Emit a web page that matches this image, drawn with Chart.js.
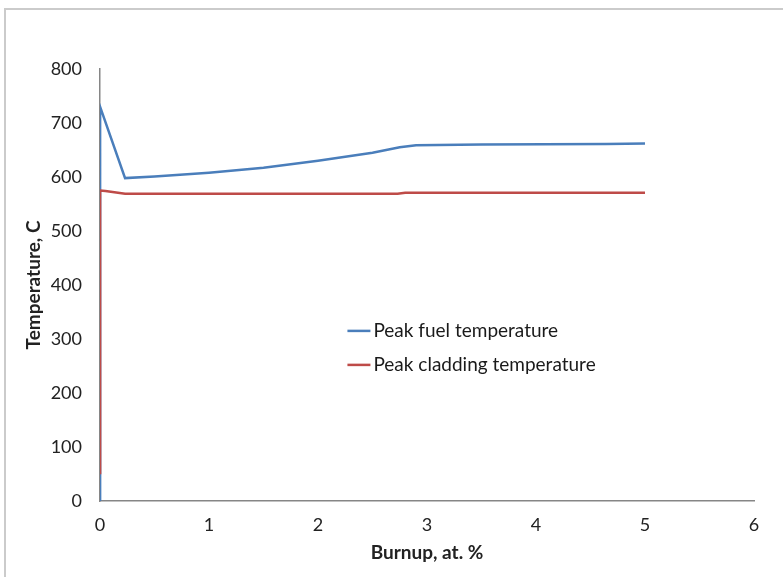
<!DOCTYPE html>
<html>
<head>
<meta charset="utf-8">
<script src="https://cdn.jsdelivr.net/npm/chart.js@4.4.1/dist/chart.umd.min.js"></script>
<style>
  body { margin: 0; background: #fff; }
  #frame { position: absolute; left: 4px; top: 8px; width: 820px; height: 620px; border: 2px solid #cbcbcb; }
  #wrap { position: absolute; left: 0; top: 0; width: 783px; height: 577px; }
</style>
</head>
<body>
<div id="frame"></div>
<div id="wrap"><canvas id="myChart" width="783" height="577"></canvas></div>
<script>
// burnup (at. %) and peak temperatures (C)
var fuelBurnup = [0, 0.001, 0.23, 0.5, 1, 1.5, 2, 2.5, 2.75, 2.9, 3.5, 4.65, 5];
var fuelTemp   = [0, 730, 598, 601, 608, 617, 630, 645, 655, 659, 660, 661, 662];

var cladBurnup = [0, 0.001, 0.05, 0.23, 1, 2, 2.73, 2.8, 3.5, 4.65, 5];
var cladTemp   = [52, 575, 574, 569, 569, 569, 569, 571, 571, 571, 571];

var xTicks = [0, 1, 2, 3, 4, 5, 6];
var yTicks = [0, 100, 200, 300, 400, 500, 600, 700, 800];

function toPoints(xs, ys) {
  var pts = [];
  for (var i = 0; i < xs.length; i++) pts.push({x: xs[i], y: ys[i]});
  return pts;
}

var font = "Lato, 'Open Sans', sans-serif";

// legend sits inside the plot area
var innerLegend = {
  id: 'innerLegend',
  afterDraw: function(chart) {
    var ctx = chart.ctx;
    var xs = chart.scales.x, ys = chart.scales.y;
    var left = xs.getPixelForValue(2.27);
    var top = ys.getPixelForValue(315);
    ctx.save();
    ctx.font = '19px ' + font;
    ctx.textBaseline = 'middle';
    chart.data.datasets.forEach(function(ds, i) {
      var y = top + i * 34;
      ctx.strokeStyle = ds.borderColor;
      ctx.lineWidth = 2.5;
      ctx.beginPath();
      ctx.moveTo(left, y);
      ctx.lineTo(left + 23, y);
      ctx.stroke();
      ctx.fillStyle = '#1a1a1a';
      ctx.fillText(ds.label, left + 26, y);
    });
    ctx.restore();
  }
};

var ctx = document.getElementById("myChart");
var myLineChart = new Chart(ctx, {
  type: 'scatter',
  data: {
    datasets: [{
      label: 'Peak fuel temperature',
      data: toPoints(fuelBurnup, fuelTemp),
      showLine: true,
      borderColor: '#4a7ebb',
      borderWidth: 2.5,
      pointRadius: 0,
      order: 2
    }, {
      label: 'Peak cladding temperature',
      data: toPoints(cladBurnup, cladTemp),
      showLine: true,
      borderColor: '#be4b48',
      borderWidth: 2.5,
      pointRadius: 0,
      order: 1
    }]
  },
  options: {
    responsive: false,
    animation: false,
    layout: { padding: { left: 0, top: 69, right: 29, bottom: 0 } },
    plugins: { legend: { display: false }, tooltip: { enabled: false } },
    scales: {
      x: {
        type: 'linear', min: 0, max: 6,
        afterBuildTicks: function(s) { s.ticks = xTicks.map(function(v) { return {value: v}; }); },
        afterFit: function(s) { s.height = 76; },
        grid: { display: false, drawTicks: false },
        border: { color: '#868686', width: 1.5 },
        ticks: { padding: 13, color: '#222', font: { family: font, size: 18 } },
        title: { display: true, text: 'Burnup, at. %', color: '#222', padding: { top: 0, bottom: 13 },
                 font: { family: font, size: 19, weight: 'bold' } }
      },
      y: {
        type: 'linear', min: 0, max: 800,
        afterBuildTicks: function(s) { s.ticks = yTicks.map(function(v) { return {value: v}; }); },
        afterFit: function(s) { s.width = 100; },
        grid: { display: false, drawTicks: false },
        border: { color: '#868686', width: 1.5 },
        ticks: { padding: 18, color: '#222', font: { family: font, size: 18 } },
        title: { display: true, text: 'Temperature, C', color: '#222', padding: { top: 22, bottom: 0 },
                 font: { family: font, size: 19, weight: 'bold' } }
      }
    }
  },
  plugins: [innerLegend]
});
</script>
</body>
</html>
